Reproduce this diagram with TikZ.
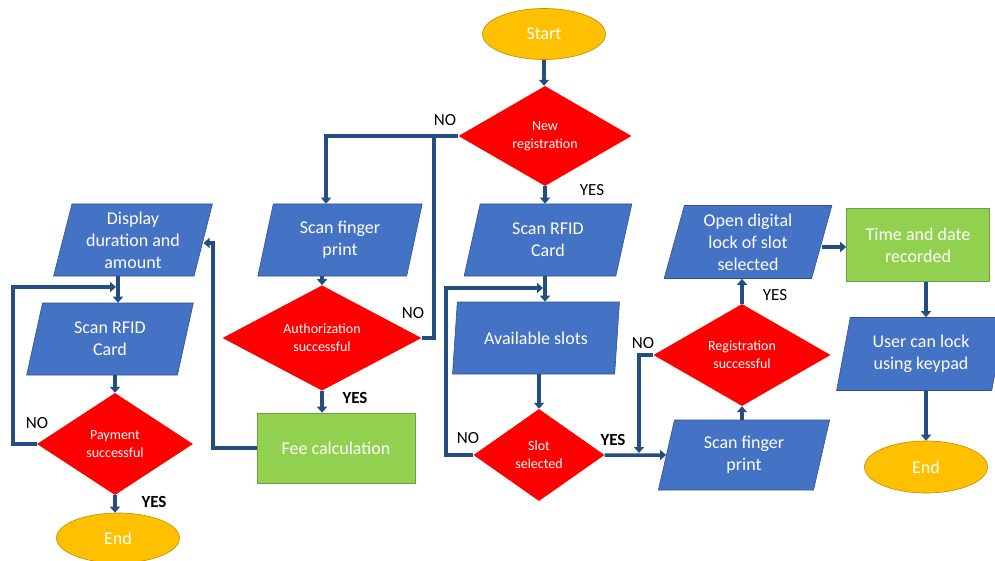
\documentclass[tikz,border=0pt]{standalone}
\usepackage{fontspec}
\setmainfont{Carlito}
\usetikzlibrary{shapes.geometric,arrows.meta}
\definecolor{boxblue}{RGB}{68,114,196}
\definecolor{edgeblue}{RGB}{47,82,143}
\definecolor{flowblue}{RGB}{37,78,128}
\definecolor{decred}{RGB}{255,0,0}
\definecolor{procgreen}{RGB}{146,208,80}
\definecolor{edgegreen}{RGB}{110,160,60}
\definecolor{termyellow}{RGB}{255,192,0}
\definecolor{edgeyellow}{RGB}{190,140,0}

\begin{document}
\begin{tikzpicture}[x=1pt,y=-1pt,
	every node/.style={font=\fontsize{18}{22}\selectfont, text=white, align=center, inner sep=0pt},
	io/.style={trapezium, trapezium left angle=76, trapezium right angle=104, trapezium stretches=true, fill=boxblue, draw=edgeblue, line width=0.6pt, minimum height=72pt},
	decision/.style={diamond, fill=decred, font=\fontsize{14}{18}\selectfont},
	process/.style={rectangle, fill=procgreen, draw=edgegreen, line width=0.6pt},
	terminal/.style={ellipse, fill=termyellow, draw=edgeyellow, line width=0.6pt, minimum width=123pt},
	flow/.style={draw=flowblue, line width=3.5pt},
	arr/.style={flow, -{Triangle[length=6pt,width=10pt]}},
	lbl/.style={text=black, font=\fontsize{17}{20}\selectfont},
	lblb/.style={text=black, font=\fontsize{17}{20}\selectfont\bfseries}]
		\useasboundingbox (0,0) rectangle (995,561);
		%Nodes
		\node[terminal, minimum height=51pt] (start) at (544,34) {Start};
		\node[decision, minimum width=173pt, minimum height=100pt] (newreg) at (545,136) {New\\registration};
		\node[io, minimum width=168pt] (rfidb) at (548,240) {Scan RFID\\Card};
		\node[io, minimum width=167pt] (avail) at (536,338) {Available slots};
		\node[decision, minimum width=131pt, minimum height=92pt] (slot) at (539,455) {Slot\\selected};
		\node[io, minimum width=166pt] (fpa) at (340,240) {Scan finger\\print};
		\node[decision, minimum width=199pt, minimum height=102pt] (auth) at (322,338) {Authorization\\successful};
		\node[process, minimum width=158pt, minimum height=70pt] (fee) at (336,448) {Fee calculation};
		\node[io, minimum width=159pt] (disp) at (133,240) {Display\\duration and\\amount};
		\node[io, minimum width=167pt] (rfida) at (110,339) {Scan RFID\\Card};
		\node[decision, minimum width=156pt, minimum height=102pt] (pay) at (115,444) {Payment\\successful};
		\node[terminal, minimum height=50pt] (enda) at (118,538) {End};
		\node[io, minimum width=173pt, minimum height=70pt] (fpb) at (744,455) {Scan finger\\print};
		\node[decision, minimum width=177pt, minimum height=102pt] (reg) at (742,355) {Registration\\successful};
		\node[io, minimum width=168pt, minimum height=73pt] (open) at (748,242) {Open digital\\lock of slot\\selected};
		\node[process, minimum width=143pt, minimum height=73pt] (time) at (918,245) {Time and date\\recorded};
		\node[io, minimum width=169pt, minimum height=73pt] (user) at (921,354) {User can lock\\using keypad};
		\node[terminal, minimum height=52pt] (endb) at (926,467) {End};
		%Labels
		\node[lbl] (no1) at (445,120) {NO};
		\node[lbl] (yes1) at (592,190) {YES};
		\node[lbl] (no2) at (413,313) {NO};
		\node[lblb] (yes2) at (355,398) {YES};
		\node[lbl] (no3) at (37,423) {NO};
		\node[lblb] (yes3) at (154,502) {YES};
		\node[lbl] (no4) at (468,438) {NO};
		\node[lblb] (yes4) at (613,440) {YES};
		\node[lbl] (no5) at (643,343) {NO};
		\node[lbl] (yes5) at (775,295) {YES};
		%Joins
		\coordinate (j1) at (434,136);
		\coordinate (j2) at (213,243);
		\coordinate (j3) at (116,287);
		\coordinate (j4) at (543,288);
		\coordinate (j5) at (639,453);
		%Arrows
		\draw[arr] (start.south) -- (start.south |- newreg.north);
		\draw[arr] (newreg.west) -| ([xshift=-14pt]fpa.north);
		\draw[flow] (auth.east) -| (j1);
		\draw[arr] (newreg.south) -- (newreg.south |- rfidb.north);
		\draw[arr] (rfidb.south -| newreg) -- (avail.north -| newreg);
		\draw[arr] (avail.south -| slot) -- (slot.north);
		\draw[arr] (slot.west) -| (446,288) -- (j4);
		\draw[arr] (slot.east) -- (fpb.west);
		\draw[arr] (reg.west) -| (j5);
		\draw[arr] (fpb.north -| reg) -- (reg.south);
		\draw[arr] (reg.north) -- (reg.north |- open.south);
		\draw[arr] ([yshift=-5pt]open.east) -- ([yshift=-5pt]open.east -| time.west);
		\draw[arr] (time.south -| endb) -- (user.north -| endb);
		\draw[arr] (user.south -| endb) -- (endb.north);
		\draw[arr] (fpa.south -| auth) -- (auth.north);
		\draw[arr] (auth.south) -- (auth.south |- fee.north);
		\draw[arr] (fee.west) -| (j2) -- (j2 -| disp.east);
		\draw[arr] (disp.south -| enda) -- (rfida.north -| enda);
		\draw[arr] (pay.west) -| (13,287) -- (j3);
		\draw[arr] (rfida.south -| pay) -- (pay.north);
		\draw[arr] (pay.south) -- (pay.south |- enda.north);
\end{tikzpicture}
\end{document}
